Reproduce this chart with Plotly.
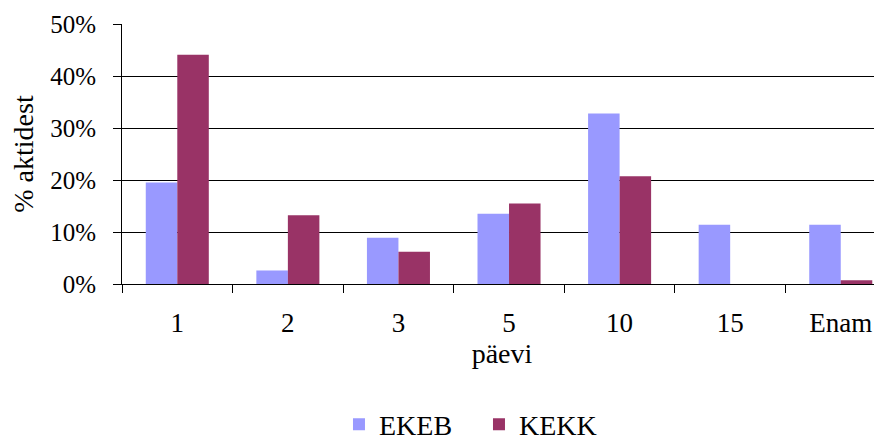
import plotly.graph_objects as go

categories = ["1", "2", "3", "5", "10", "15", "Enam"]
ekeb = [0.195, 0.026, 0.089, 0.135, 0.328, 0.114, 0.114]
kekk = [0.441, 0.132, 0.062, 0.155, 0.207, 0.0, 0.007]

FONT = "Liberation Serif, Times New Roman, serif"

fig = go.Figure()
fig.add_trace(go.Bar(name="EKEB", x=categories, y=ekeb, marker=dict(color="#9999FF", line=dict(width=0))))
fig.add_trace(go.Bar(name="KEKK", x=categories, y=kekk, marker=dict(color="#993366", line=dict(width=0))))

# page body has an 8px offset; figure sized to the visible area
fig.update_layout(
    width=874, height=432,
    margin=dict(l=114, r=0, t=16, b=156),
    paper_bgcolor="white", plot_bgcolor="white",
    font=dict(family=FONT, size=25, color="black"),
    barmode="group", bargap=0.43, bargroupgap=0,
    showlegend=True,
    legend=dict(orientation="h", xref="container", yref="container",
                x=0.3787, xanchor="left", y=0.036, yanchor="middle",
                font=dict(size=28), itemwidth=30, entrywidth=95, traceorder="normal",
                bgcolor="rgba(0,0,0,0)"),
)
fig.update_xaxes(
    type="category", range=[-0.5, 6.373], automargin=False,
    showline=True, linecolor="black", linewidth=1,
    ticks="outside", tickson="boundaries", ticklen=8, tickcolor="black",
    showgrid=False, ticklabelstandoff=15, tickfont=dict(size=27),
    title=dict(text="päevi", standoff=0, font=dict(size=28)),
)
fig.update_yaxes(
    range=[0, 0.5], dtick=0.1, tickformat=".0%", automargin=False,
    showline=True, linecolor="black", linewidth=1,
    ticks="outside", ticklen=8, tickcolor="black",
    showgrid=True, gridcolor="black", gridwidth=1,
    zeroline=False, ticklabelstandoff=12, tickfont=dict(size=25),
    title=dict(text="% aktidest", standoff=8, font=dict(size=28)),
)

fig.write_html("out.html")
